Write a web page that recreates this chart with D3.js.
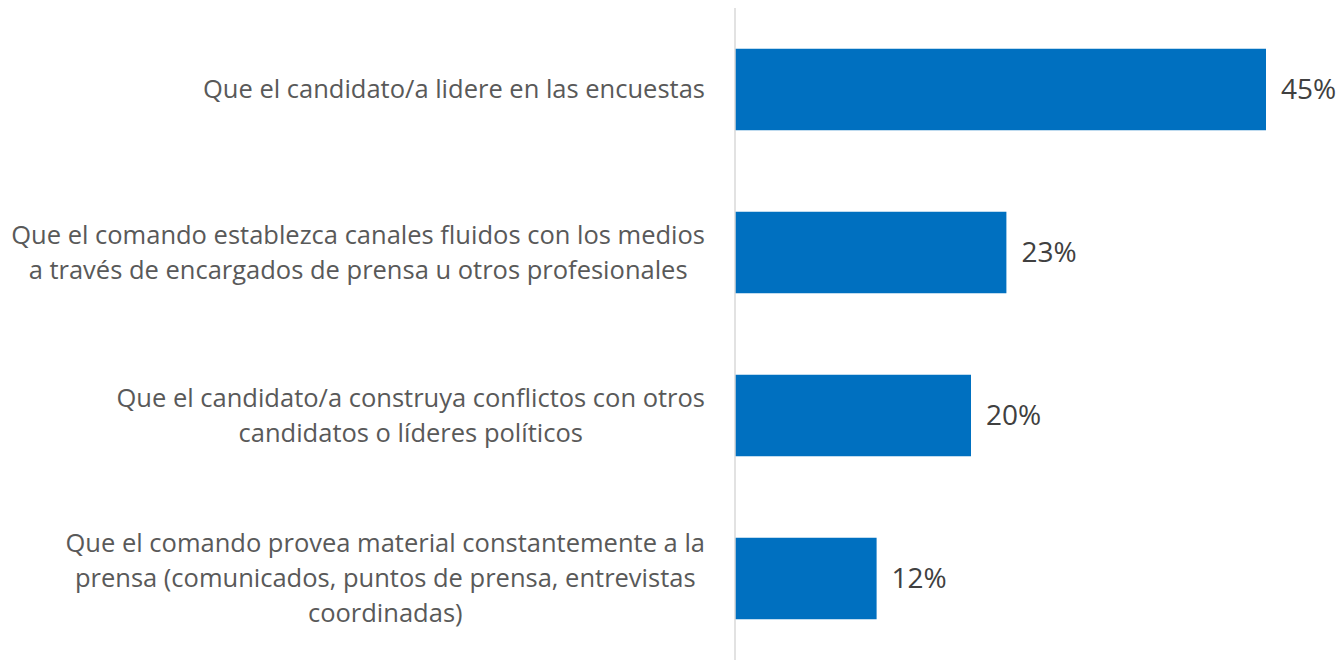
<!DOCTYPE html>
<html>
<head>
<meta charset="utf-8">
<script src="https://cdn.jsdelivr.net/npm/d3@7"></script>
<style>
  body { margin: 0; background: #fff; }
  svg text { font-family: "Open Sans", sans-serif; }
</style>
</head>
<body>
<div id="chart"></div>
<script>
// categories (one array of lines per label, as wrapped in the original)
const categories = [
  ['Que el candidato/a lidere en las encuestas'],
  ['Que el comando establezca canales fluidos con los medios',
   'a través de encargados de prensa u otros profesionales'],
  ['Que el candidato/a construya conflictos con otros',
   'candidatos o líderes políticos'],
  ['Que el comando provea material constantemente a la',
   'prensa (comunicados, puntos de prensa, entrevistas',
   'coordinadas)'],
];
const values = [45, 23, 20, 12];

const width = 1342;
const height = 660;
const marginTop = 8;
const marginLeft = 735;
const labelRight = 705;
const lineHeight = 35;

const keys = categories.map((d, i) => i);

const svg = d3
  .select('#chart')
  .append('svg')
  .attr('width', width)
  .attr('height', height);

const xScale = d3.scaleLinear().domain([0, 50]).range([marginLeft, marginLeft + 590]);

const yScale = d3
  .scaleBand()
  .domain(keys)
  .range([marginTop, height])
  .paddingInner(0.5)
  .paddingOuter(0.25);

// Bars
svg
  .append('g')
  .selectAll('rect')
  .data(keys)
  .join('rect')
  .attr('x', xScale(0))
  .attr('y', (i) => yScale(i))
  .attr('width', (i) => xScale(values[i]) - xScale(0))
  .attr('height', yScale.bandwidth())
  .attr('fill', '#0070c0');

// Vertical axis line
svg
  .append('g')
  .attr('transform', `translate(${marginLeft},0)`)
  .call(d3.axisLeft(yScale).tickSize(0).tickFormat(''))
  .call((g) => g.select('.domain').attr('stroke', '#d9d9d9').attr('stroke-width', 1.5)
    .attr('d', `M0,${marginTop}V${height}`));

// Category labels: block right-aligned, lines centered inside it
const labels = svg
  .append('g')
  .attr('font-size', 25.5)
  .attr('fill', '#595959')
  .selectAll('text')
  .data(keys)
  .join('text')
  .attr('text-anchor', 'middle');

labels.each(function (i) {
  const t = d3.select(this);
  const lines = categories[i];
  const cy = yScale(i) + yScale.bandwidth() / 2;
  const y0 = cy - ((lines.length - 1) * lineHeight) / 2;
  lines.forEach((line, j) => {
    t.append('tspan')
      .attr('y', y0 + j * lineHeight)
      .attr('dy', '0.35em')
      .text(line);
  });
  const maxW = d3.max(t.selectAll('tspan').nodes(), (n) => n.getComputedTextLength());
  t.selectAll('tspan').attr('x', labelRight - maxW / 2);
});

// Value labels
svg
  .append('g')
  .attr('font-size', 28)
  .attr('fill', '#404040')
  .selectAll('text')
  .data(keys)
  .join('text')
  .attr('x', (i) => xScale(values[i]) + 15)
  .attr('y', (i) => yScale(i) + yScale.bandwidth() / 2)
  .attr('dy', '0.35em')
  .text((i) => `${values[i]}%`);
</script>
</body>
</html>
